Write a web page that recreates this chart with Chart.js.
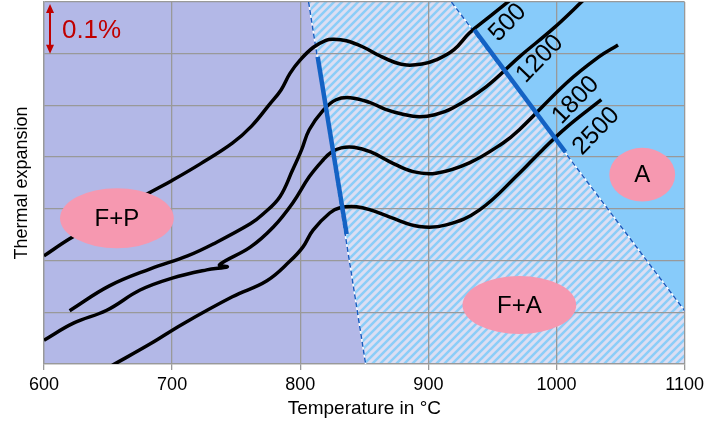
<!DOCTYPE html>
<html>
<head>
<meta charset="utf-8">
<script src="https://cdn.jsdelivr.net/npm/chart.js@4.4.1/dist/chart.umd.min.js"></script>
<style>
  html, body { margin: 0; padding: 0; background: #fff; }
  #wrap { width: 708px; height: 428px; }
</style>
</head>
<body>
<div id="wrap"><canvas id="myChart" width="708" height="428"></canvas></div>
<script>
// heating rates (curve labels)
const rateLabels = ["500", "1200", "1800", "2500"];

// dilatometer curves, temperature (°C) and expansion (units of 0.1 %)
const curve500T = [600, 620, 650, 680, 700, 722, 747, 762, 776, 785, 792, 800, 810, 820, 826, 836, 849, 862, 874, 883, 895, 906, 920, 932, 948, 966];
const curve500V = [2.09, 2.42, 2.85, 3.28, 3.55, 3.87, 4.27, 4.6, 5.02, 5.3, 5.62, 5.88, 6.12, 6.26, 6.28, 6.25, 6.13, 5.96, 5.83, 5.78, 5.8, 5.88, 6.08, 6.4, 6.72, 7.08];
const curve1200T = [620, 651, 683, 712, 732, 761, 771, 784, 794, 801, 807, 818, 828, 839, 854, 866, 880, 893, 905, 919, 945, 971, 998, 1022];
const curve1200V = [1.03, 1.51, 1.84, 2.09, 2.32, 2.71, 2.9, 3.23, 3.75, 4.14, 4.53, 4.91, 5.11, 5.15, 5.06, 4.93, 4.83, 4.78, 4.82, 4.95, 5.36, 5.94, 6.5, 7.06];
const curve1800T = [600, 623, 649, 675, 700, 727, 743, 737, 761, 779, 794, 807, 818, 824, 832, 842, 855, 870, 888, 906, 932, 958, 971, 1008, 1033, 1048];
const curve1800V = [0.46, 0.79, 1.04, 1.43, 1.66, 1.82, 1.88, 1.92, 2.26, 2.65, 3.11, 3.62, 3.95, 4.09, 4.18, 4.19, 4.1, 3.91, 3.72, 3.69, 3.89, 4.27, 4.53, 5.44, 5.94, 6.17];
const curve2500T = [653, 683, 708, 747, 774, 792, 802, 810, 823, 831, 844, 856, 870, 893, 914, 940, 971, 989, 1008, 1035];
const curve2500V = [-0.03, 0.39, 0.77, 1.3, 1.61, 1.99, 2.26, 2.59, 2.92, 3.02, 3.04, 2.97, 2.84, 2.66, 2.69, 2.98, 3.69, 4.14, 4.58, 5.11];

// phase boundaries (dashed) and measured start / finish of transformation (thick)
const fpBoundaryT = [806.5, 851];
const fpBoundaryV = [7, 0];
const aBoundaryT = [918, 1100];
const aBoundaryV = [7, 1.03];
const startLineT = [813.6, 836.2];
const startLineV = [5.94, 2.51];
const finishLineT = [935.9, 1006.9];
const finishLineV = [6.46, 4.1];

// text annotations
const rateLabelT = [962, 987, 1015, 1031];
const rateLabelV = [6.6, 5.9, 5.1, 4.5];
const phaseNames = ["F+P", "F+A", "A"];
const phaseT = [656.9, 971, 1066.9];
const phaseV = [2.82, 1.14, 3.66];
const phaseRx = [44.4, 44.4, 25.7];
const phaseRy = [0.58, 0.56, 0.52];

const xTicks = [600, 700, 800, 900, 1000, 1100];

const FONT = "'Liberation Sans', Arial, sans-serif";

const toPoints = (xs, ys) => xs.map((x, i) => ({ x: x, y: ys[i] }));

const ctx = document.getElementById("myChart").getContext("2d");

const makeHatch = () => {
  const c = document.createElement("canvas");
  c.width = 8;
  c.height = 8;
  const g = c.getContext("2d");
  g.fillStyle = "#dcdef3";
  g.fillRect(0, 0, 8, 8);
  g.strokeStyle = "#8ccdf8";
  g.lineWidth = 2.5;
  g.beginPath();
  g.moveTo(-1, 9); g.lineTo(9, -1);
  g.moveTo(-5, 5); g.lineTo(5, -5);
  g.moveTo(3, 13); g.lineTo(13, 3);
  g.stroke();
  return ctx.createPattern(c, "repeat");
};
const hatch = makeHatch();

const regionsPlugin = {
  id: "regions",
  beforeDraw(chart) {
    const { ctx: c, scales: { x, y } } = chart;
    const px = (t) => x.getPixelForValue(t);
    const py = (v) => y.getPixelForValue(v);
    const poly = (pts, fill) => {
      c.beginPath();
      pts.forEach((p, i) => (i ? c.lineTo(px(p[0]), py(p[1])) : c.moveTo(px(p[0]), py(p[1]))));
      c.closePath();
      c.fillStyle = fill;
      c.fill();
    };
    c.save();
    poly([[600, 0], [600, 7], [fpBoundaryT[0], fpBoundaryV[0]], [fpBoundaryT[1], fpBoundaryV[1]]], "#b3b8e7");
    poly([[fpBoundaryT[0], fpBoundaryV[0]], [aBoundaryT[0], aBoundaryV[0]], [aBoundaryT[1], aBoundaryV[1]], [1100, 0], [fpBoundaryT[1], fpBoundaryV[1]]], hatch);
    poly([[aBoundaryT[0], aBoundaryV[0]], [1100, 7], [aBoundaryT[1], aBoundaryV[1]]], "#87cbfa");
    c.restore();
  },
  afterDatasetsDraw(chart) {
    const { ctx: c, scales: { x, y } } = chart;
    const px = (t) => x.getPixelForValue(t);
    const py = (v) => y.getPixelForValue(v);
    c.save();

    // 0.1 % scale arrow
    const ax = px(604.7), a0 = py(7) + 2, a1 = py(6);
    c.strokeStyle = "#c00000";
    c.fillStyle = "#c00000";
    c.lineWidth = 2;
    c.beginPath();
    c.moveTo(ax, a0 + 6);
    c.lineTo(ax, a1 - 6);
    c.stroke();
    c.beginPath();
    c.moveTo(ax, a0); c.lineTo(ax - 4, a0 + 9); c.lineTo(ax + 4, a0 + 9); c.closePath();
    c.moveTo(ax, a1); c.lineTo(ax - 4, a1 - 9); c.lineTo(ax + 4, a1 - 9); c.closePath();
    c.fill();
    c.font = "26px " + FONT;
    c.textAlign = "left";
    c.textBaseline = "middle";
    c.fillText("0.1%", px(614), py(6.44));

    // heating-rate labels
    c.fillStyle = "#000";
    c.font = "25px " + FONT;
    c.textAlign = "center";
    rateLabels.forEach((lab, i) => {
      c.save();
      c.translate(px(rateLabelT[i]), py(rateLabelV[i]));
      c.rotate(-46 * Math.PI / 180);
      c.fillText(lab, 0, 0);
      c.restore();
    });

    // phase field ellipses
    phaseNames.forEach((name, i) => {
      const cx = px(phaseT[i]), cy = py(phaseV[i]);
      const rx = px(phaseT[i] + phaseRx[i]) - cx;
      const ry = cy - py(phaseV[i] + phaseRy[i]);
      c.beginPath();
      c.ellipse(cx, cy, rx, ry, 0, 0, Math.PI * 2);
      c.fillStyle = "#f698b0";
      c.fill();
      c.fillStyle = "#000";
      c.font = "24px " + FONT;
      c.fillText(name, cx, cy + 1);
    });
    c.restore();
  },
};

const curveStyle = {
  showLine: true,
  borderColor: "#000",
  borderWidth: 3.5,
  pointRadius: 0,
  tension: 0.4,
  order: 2,
};

myChart = new Chart(ctx, {
  type: "scatter",
  data: {
    datasets: [
      { label: "start", data: toPoints(startLineT, startLineV), showLine: true, borderColor: "#1462c4", borderWidth: 4.5, pointRadius: 0, order: 0 },
      { label: "finish", data: toPoints(finishLineT, finishLineV), showLine: true, borderColor: "#1462c4", borderWidth: 4.5, pointRadius: 0, order: 0 },
      { label: rateLabels[0], data: toPoints(curve500T, curve500V), ...curveStyle },
      { label: rateLabels[1], data: toPoints(curve1200T, curve1200V), ...curveStyle },
      { label: rateLabels[2], data: toPoints(curve1800T, curve1800V), ...curveStyle },
      { label: rateLabels[3], data: toPoints(curve2500T, curve2500V), ...curveStyle },
      { label: "fp", data: toPoints(fpBoundaryT, fpBoundaryV), showLine: true, borderColor: "#1a5cc0", borderWidth: 1.5, borderDash: [5, 3], pointRadius: 0, order: 4 },
      { label: "a", data: toPoints(aBoundaryT, aBoundaryV), showLine: true, borderColor: "#1a5cc0", borderWidth: 1.5, borderDash: [5, 3], pointRadius: 0, order: 4 },
      { label: "fpw", data: toPoints(fpBoundaryT, fpBoundaryV), showLine: true, borderColor: "#fff", borderWidth: 1.5, pointRadius: 0, order: 5 },
      { label: "aw", data: toPoints(aBoundaryT, aBoundaryV), showLine: true, borderColor: "#fff", borderWidth: 1.5, pointRadius: 0, order: 5 },
    ],
  },
  options: {
    responsive: false,
    animation: false,
    events: [],
    layout: { padding: { left: 0, top: 2, right: 22, bottom: 0 } },
    plugins: { legend: { display: false }, tooltip: { enabled: false } },
    scales: {
      x: {
        type: "linear",
        min: 600,
        max: 1100,
        afterBuildTicks: (scale) => { scale.ticks = xTicks.map((v) => ({ value: v })); },
        ticks: { font: { family: FONT, size: 18 }, color: "#000", padding: 4, callback: (v) => String(v) },
        grid: { color: "#999", lineWidth: 1.3, tickLength: 6 },
        border: { color: "#999", width: 1.3 },
        title: { display: true, text: "Temperature in °C", font: { family: FONT, size: 19 }, color: "#000", padding: { top: 2, bottom: 8 } },
        afterFit: (scale) => { scale.height = 64; },
      },
      y: {
        min: 0,
        max: 7,
        ticks: { display: false, stepSize: 1 },
        grid: { color: "#999", lineWidth: 1.3, drawTicks: false },
        border: { color: "#999", width: 1.3 },
        title: { display: true, text: "Thermal expansion", font: { family: FONT, size: 18 }, color: "#000", padding: { top: 11, bottom: 0 } },
        afterFit: (scale) => { scale.width = 44; },
      },
    },
  },
  plugins: [regionsPlugin],
});
</script>
</body>
</html>
